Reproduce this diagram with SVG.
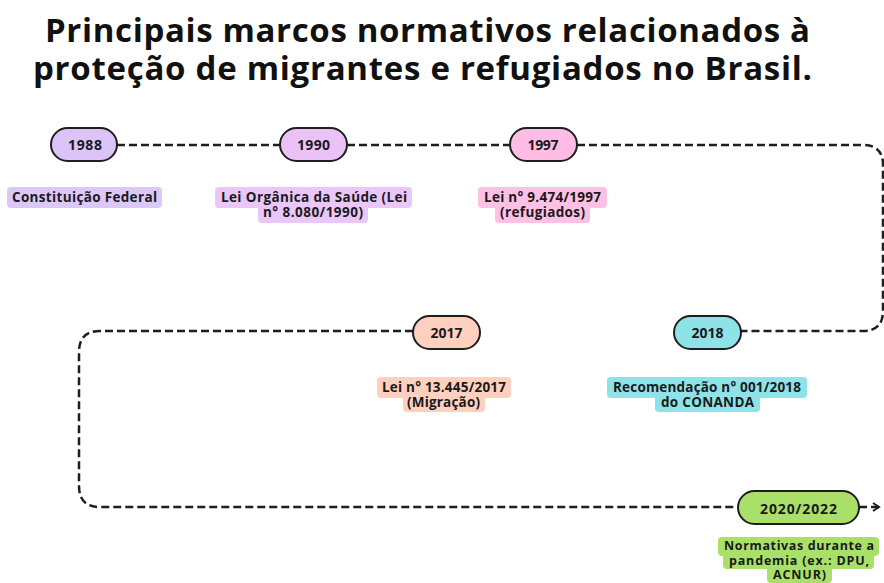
<svg xmlns="http://www.w3.org/2000/svg" width="884" height="583" viewBox="0 0 884 583">
<defs>
<style>
.title{font-family:"Open Sans","Liberation Sans",sans-serif;font-weight:700;font-size:33px;fill:#111}
.pill{stroke:#1e1e1e;stroke-width:2}
.yr{font-family:"Open Sans","Liberation Sans",sans-serif;font-weight:700;font-size:14px;fill:#1a1a1a;text-anchor:middle}
.lbl{font-family:"Open Sans","Liberation Sans",sans-serif;font-weight:700;font-size:13.5px;fill:#1a1a1a;text-anchor:middle}
.lbs{font-family:"Open Sans","Liberation Sans",sans-serif;font-weight:700;font-size:12.5px;fill:#1a1a1a;text-anchor:middle}
.conn{fill:none;stroke:#1e1e1e;stroke-width:2.5;stroke-dasharray:8 4}
</style>
<marker id="arr" viewBox="0 0 10 10" refX="8" refY="5" markerWidth="10" markerHeight="10" markerUnits="userSpaceOnUse" orient="auto">
<path d="M2,1 L8,5 L2,9" fill="none" stroke="#1e1e1e" stroke-width="2"/>
</marker>
</defs>
<rect width="884" height="583" fill="#fff"/>
<text class="title" x="45" y="42" textLength="765" lengthAdjust="spacing">Principais marcos normativos relacionados à</text>
<text class="title" x="33" y="80" textLength="779" lengthAdjust="spacing">proteção de migrantes e refugiados no Brasil.</text>

<g id="connectors">
<path class="conn" d="M117,145 H280"/>
<path class="conn" d="M347,145 H510"/>
<path class="conn" d="M577,145 H863 Q883,145 883,165 V311 Q883,331 863,331 H741"/>
<path class="conn" d="M413,331 H100 Q79,331 79,352 V486 Q79,507 100,507 H738"/>
<path d="M859,507 H879" fill="none" stroke="#1e1e1e" stroke-width="2.5" stroke-dasharray="8 4" marker-end="url(#arr)"/>
</g>

<g id="n1988">
<rect class="pill" x="51" y="128" width="66" height="33" rx="16.5" fill="#dcc4f8"/>
<text class="yr" x="85" y="150" textLength="34" lengthAdjust="spacing">1988</text>
<rect x="7" y="187" width="155" height="21" rx="4" fill="#dcc8f8"/>
<text class="lbl" x="84.5" y="202" textLength="145" lengthAdjust="spacing">Constituição Federal</text>
</g>

<g id="n1990">
<rect class="pill" x="280" y="128" width="67" height="33" rx="16.5" fill="#eac2f8"/>
<text class="yr" x="313.5" y="150" textLength="33" lengthAdjust="spacing">1990</text>
<rect x="215" y="187" width="197" height="21" rx="4" fill="#eac6fa"/>
<rect x="258" y="203" width="110" height="20" rx="4" fill="#eac6fa"/>
<text class="lbl" x="314" y="202" textLength="186" lengthAdjust="spacing">Lei Orgânica da Saúde (Lei</text>
<text class="lbl" x="313" y="217" textLength="100" lengthAdjust="spacing">n° 8.080/1990)</text>
</g>

<g id="n1997">
<rect class="pill" x="510" y="128" width="67" height="33" rx="16.5" fill="#ffbde6"/>
<text class="yr" x="543" y="150" textLength="31" lengthAdjust="spacing">1997</text>
<rect x="478" y="187" width="129" height="21" rx="4" fill="#ffc0e6"/>
<rect x="495" y="203" width="95" height="20" rx="4" fill="#ffc0e6"/>
<text class="lbl" x="542.5" y="202" textLength="117" lengthAdjust="spacing">Lei n° 9.474/1997</text>
<text class="lbl" x="542.5" y="217" textLength="85" lengthAdjust="spacing">(refugiados)</text>
</g>

<g id="n2017">
<rect class="pill" x="413" y="316" width="67" height="33" rx="16.5" fill="#ffcfc0"/>
<text class="yr" x="446.5" y="338" textLength="32" lengthAdjust="spacing">2017</text>
<rect x="377" y="377" width="134" height="21" rx="4" fill="#ffcfc0"/>
<rect x="403" y="393" width="82" height="19" rx="4" fill="#ffcfc0"/>
<text class="lbl" x="444" y="392" textLength="124" lengthAdjust="spacing">Lei n° 13.445/2017</text>
<text class="lbl" x="443.5" y="407" textLength="73" lengthAdjust="spacing">(Migração)</text>
</g>

<g id="n2018">
<rect class="pill" x="674" y="316" width="67" height="33" rx="16.5" fill="#8ee3e8"/>
<text class="yr" x="707.5" y="338" textLength="32" lengthAdjust="spacing">2018</text>
<rect x="607" y="377" width="200" height="21" rx="4" fill="#8ee3e8"/>
<rect x="655" y="393" width="105" height="19" rx="4" fill="#8ee3e8"/>
<text class="lbl" x="707" y="392" textLength="188" lengthAdjust="spacing">Recomendação n° 001/2018</text>
<text class="lbl" x="707.5" y="407" textLength="93" lengthAdjust="spacing">do CONANDA</text>
</g>

<g id="n2020">
<rect class="pill" x="738" y="491" width="121" height="33" rx="16.5" fill="#a8e06a"/>
<text class="yr" x="798.5" y="514" textLength="77" lengthAdjust="spacing">2020/2022</text>
<rect x="718" y="537" width="161" height="19" rx="4" fill="#a8e06a"/>
<rect x="723" y="552" width="151" height="17" rx="4" fill="#a8e06a"/>
<rect x="767" y="566" width="65" height="17" rx="4" fill="#a8e06a"/>
<text class="lbs" x="799" y="550" textLength="150" lengthAdjust="spacing">Normativas durante a</text>
<text class="lbs" x="799" y="564.5" textLength="140" lengthAdjust="spacing">pandemia (ex.: DPU,</text>
<text class="lbs" x="799.5" y="579" textLength="53" lengthAdjust="spacing">ACNUR)</text>
</g>
</svg>
